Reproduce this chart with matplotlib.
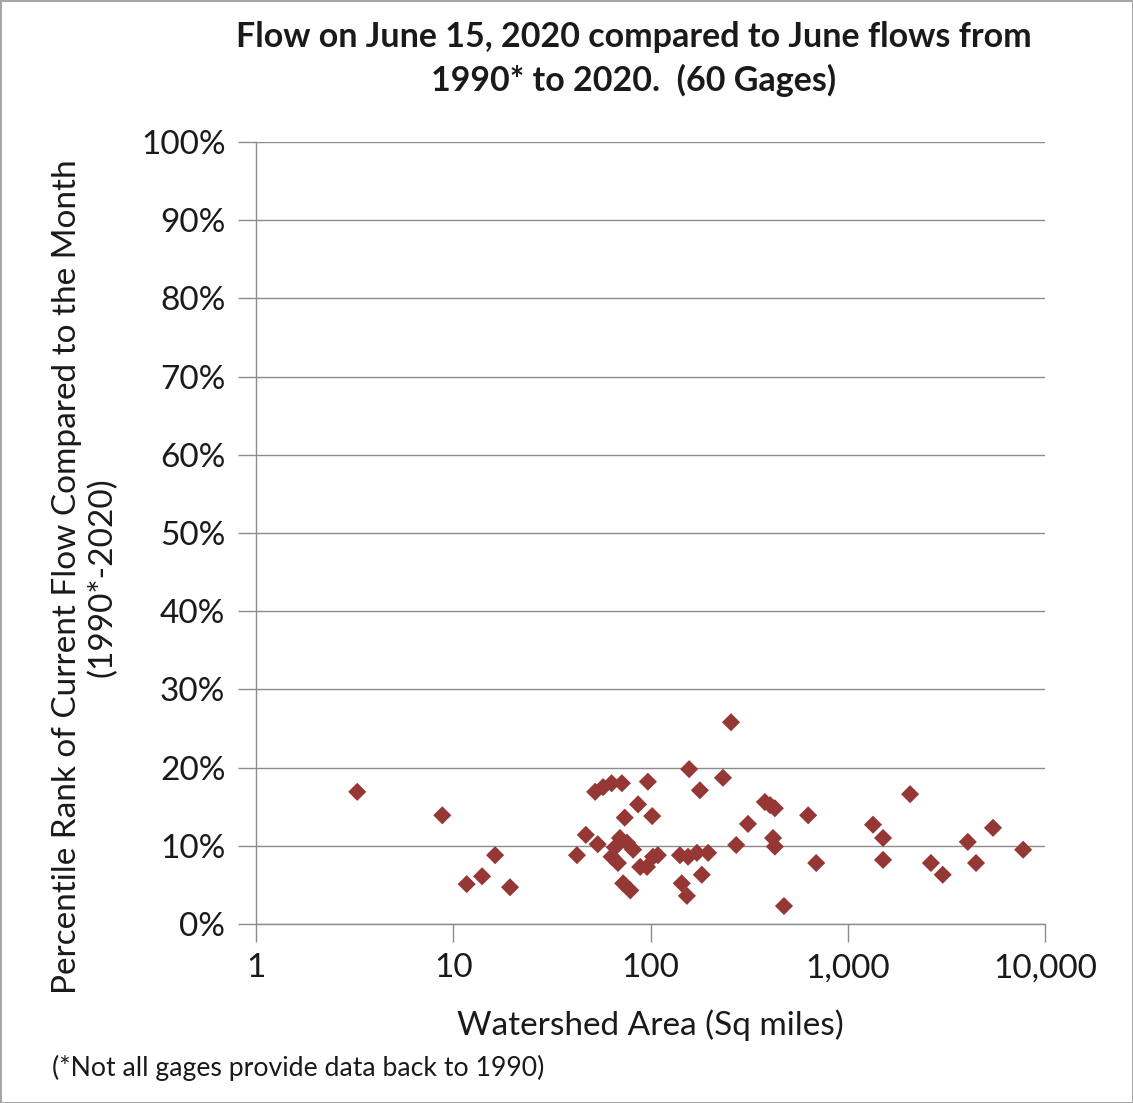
import numpy as np
import matplotlib
matplotlib.use("Agg")
import matplotlib.pyplot as plt
from matplotlib.ticker import FixedLocator, FuncFormatter

plt.rcParams['font.family'] = ['Lato', 'DejaVu Sans']

# Watershed area (sq mi) and percentile rank (%) for each gage
area = [3.26, 8.8, 11.7, 14.0, 16.3, 19.4,
        42.4, 47, 52.4, 57.5, 63.5, 71.6, 97, 86.5, 74, 102,
        54, 70, 76, 81.6, 63.5, 68.4, 88.7, 96, 72.7, 79, 66,
        109, 103, 141, 155, 172, 196, 182, 144, 153,
        157, 178, 233, 256, 312, 272, 380, 404, 427, 418, 427, 475,
        630, 692, 1343, 1510, 1510, 2070, 2640, 3030, 4060, 4470, 5450, 7750]
pct_rank = [16.9, 13.9, 5.1, 6.1, 8.8, 4.7,
            8.8, 11.4, 16.9, 17.5, 18.0, 18.0, 18.2, 15.3, 13.6, 13.8,
            10.2, 11.0, 10.4, 9.5, 8.6, 7.8, 7.3, 7.3, 5.2, 4.3, 9.8,
            8.8, 8.6, 8.8, 8.6, 9.1, 9.1, 6.3, 5.2, 3.6,
            19.8, 17.1, 18.7, 25.8, 12.8, 10.1, 15.6, 15.2, 14.8, 11.0, 9.9, 2.3,
            13.9, 7.8, 12.7, 11.0, 8.2, 16.6, 7.8, 6.3, 10.5, 7.8, 12.3, 9.5]

x_ticks = [1, 10, 100, 1000, 10000]
y_ticks = list(range(0, 101, 10))

W, H = 1133, 1103
fig = plt.figure(figsize=(W / 100, H / 100), dpi=100)
fig.patch.set_edgecolor('#a6a6a6')
fig.patch.set_linewidth(2)

ax = fig.add_axes([256 / W, 1 - 924 / H, (1045 - 256) / W, (924 - 142) / H])
ax.scatter(area, pct_rank, marker='D', s=85, color='#953735',
           edgecolors='none', zorder=3)

ax.set_xscale('log')
ax.set_xlim(1, 10000)
ax.set_ylim(0, 100)
ax.xaxis.set_major_locator(FixedLocator(x_ticks))
ax.xaxis.set_minor_locator(FixedLocator([]))
ax.xaxis.set_major_formatter(FuncFormatter(lambda v, p: f"{v:,.0f}"))
ax.yaxis.set_major_locator(FixedLocator(y_ticks))
ax.yaxis.set_major_formatter(FuncFormatter(lambda v, p: f"{v:.0f}%"))

ax.grid(axis='y', color='#8c8c8c', lw=1)
ax.set_axisbelow(True)
for side in ['top', 'right']:
    ax.spines[side].set_visible(False)
for side in ['left', 'bottom']:
    ax.spines[side].set_color('#8c8c8c')
    ax.spines[side].set_linewidth(1)
ax.tick_params(axis='both', colors='#8c8c8c', labelcolor='#1a1a1a',
               labelsize=24, length=13, width=1, direction='out')
ax.tick_params(axis='x', pad=8)
ax.tick_params(axis='y', pad=9)

fig.text(650 / W, 1 - 1025 / H, "Watershed Area (Sq miles)",
         ha='center', va='center', fontsize=24, color='#1a1a1a')
fig.text(85 / W, 1 - 577 / H,
         "Percentile Rank of Current Flow Compared to the Month\n(1990*-2020)",
         ha='center', va='center', rotation=90, fontsize=24,
         color='#1a1a1a', linespacing=1.2)

fig.text(634 / W, 1 - 59 / H,
         "Flow on June 15, 2020 compared to June flows from\n1990* to 2020.  (60 Gages)",
         ha='center', va='center', fontsize=24.5, fontweight='bold',
         color='#1a1a1a', linespacing=1.4)
fig.text(52 / W, 1 - 1068 / H, "(*Not all gages provide data back to 1990)",
         ha='left', va='center', fontsize=19.2, color='#1a1a1a')

fig.savefig("out.png", dpi=100)
